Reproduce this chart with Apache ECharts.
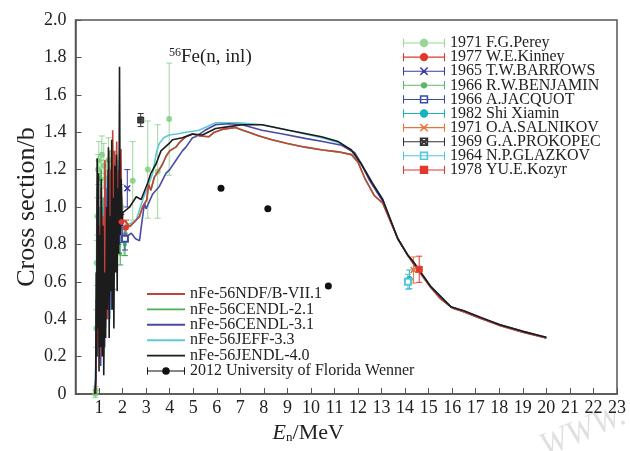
<!DOCTYPE html>
<html><head><meta charset="utf-8">
<script src="https://cdn.jsdelivr.net/npm/echarts@6/dist/echarts.min.js"></script>
<style>html,body{margin:0;padding:0;background:#fff}#c{width:630px;height:451px}</style>
</head><body><div id="c"></div><script>
// ---- tick labels ----
const xTickLabels = ['1','2','3','4','5','6','7','8','9','10','11','12','13','14','15','16','17','18','19','20','21','22','23'];
const yTickLabels = ['0','0.2','0.4','0.6','0.8','1.0','1.2','1.4','1.6','1.8','2.0'];

// ---- evaluated curves [E (MeV), sigma (b)] ----
const endfB71 = [[0.85,0],[0.9,0.3],[0.93,1.05],[0.96,0.25],[1.0,0.9],[1.04,0.2],[1.08,1.1],[1.12,0.35],[1.16,0.95],[1.2,0.3],[1.25,1.25],[1.29,0.45],[1.33,1.0],[1.37,0.4],[1.42,1.3],[1.46,0.55],[1.5,1.2],[1.54,0.6],[1.58,1.41],[1.62,0.7],[1.66,1.3],[1.7,0.75],[1.75,1.35],[1.79,0.8],[1.84,1.2],[1.88,0.85],[1.93,1.31],[1.97,0.9],[2.01,0.93],[2.15,0.92],[2.3,0.895],[2.5,0.92],[2.72,0.95],[2.85,1.0],[3.03,1.04],[3.1,1.12],[3.2,1.09],[3.35,1.16],[3.56,1.2],[3.7,1.23],[3.84,1.27],[4.0,1.3],[4.26,1.32],[4.45,1.35],[4.69,1.376],[4.97,1.39],[5.3,1.38],[5.67,1.376],[5.9,1.4],[6.23,1.415],[6.5,1.42],[6.8,1.425],[7.1,1.41],[7.36,1.4],[7.8,1.38],[8.34,1.36],[9.0,1.34],[9.75,1.32],[10.5,1.305],[11.16,1.295],[11.72,1.28],[12.0,1.24],[12.3,1.15],[12.7,1.06],[13.05,1.02],[13.69,0.83],[14.1,0.745],[14.39,0.69],[15.09,0.57],[15.5,0.51],[16.0,0.46],[16.5,0.44],[17.0,0.415],[18.05,0.365],[19.0,0.33],[20.0,0.30]];
const cendl21 = [[0.86,0],[0.9,0.5],[0.94,1.15],[0.97,0.3],[1.01,1.0],[1.05,0.25],[1.09,1.2],[1.13,0.4],[1.18,1.05],[1.22,0.35],[1.27,1.2],[1.31,0.5],[1.36,1.1],[1.4,0.45],[1.44,1.25],[1.48,0.6],[1.53,1.15],[1.57,0.65],[1.61,1.3],[1.65,0.75],[1.7,1.2],[1.74,0.8],[1.79,1.25],[1.83,0.85],[1.88,1.15],[1.93,0.9],[2.01,0.93],[2.15,0.92],[2.3,0.895],[2.5,0.92],[2.72,0.95],[2.85,1.0],[3.03,1.04],[3.1,1.12],[3.2,1.09],[3.35,1.16],[3.56,1.2],[3.7,1.23],[3.84,1.27],[4.0,1.3],[4.26,1.32],[4.45,1.35],[4.69,1.376],[4.97,1.39],[5.3,1.38],[5.67,1.376],[5.9,1.4],[6.23,1.415],[6.5,1.42],[6.8,1.425],[7.1,1.41],[7.36,1.4],[7.8,1.38],[8.34,1.36],[9.0,1.34],[9.75,1.32],[10.5,1.305],[11.16,1.295],[11.72,1.28],[12.0,1.24],[12.3,1.15],[12.7,1.06],[13.05,1.02],[13.69,0.83],[14.1,0.745],[14.39,0.69],[15.09,0.57],[15.5,0.51],[16.0,0.46],[16.5,0.44],[17.0,0.415],[18.05,0.365],[19.0,0.33],[20.0,0.30]];
const cendl31 = [[0.85,0],[0.89,0.5],[0.92,0.2],[0.95,1.1],[0.99,0.3],[1.03,0.85],[1.07,0.15],[1.11,1.0],[1.15,0.3],[1.2,0.8],[1.24,0.25],[1.29,1.1],[1.33,0.4],[1.38,1.2],[1.42,0.5],[1.47,1.05],[1.52,0.45],[1.56,1.3],[1.6,0.6],[1.65,1.15],[1.69,0.7],[1.74,1.22],[1.78,0.75],[1.83,1.1],[1.88,0.8],[1.93,1.2],[1.98,0.85],[2.06,0.86],[2.16,0.84],[2.37,0.86],[2.55,0.83],[2.72,0.82],[2.8,0.9],[2.93,1.02],[3.0,0.99],[3.07,1.0],[3.28,1.07],[3.56,1.11],[3.84,1.18],[4.0,1.2],[4.27,1.25],[4.54,1.3],[4.69,1.32],[4.97,1.37],[5.11,1.376],[5.5,1.41],[5.95,1.44],[6.5,1.445],[7.08,1.44],[7.5,1.425],[7.92,1.41],[8.8,1.39],[9.75,1.367],[10.5,1.35],[11.3,1.33],[11.86,1.29],[12.1,1.24],[12.5,1.14],[13.05,1.03],[13.69,0.83],[14.1,0.745],[14.39,0.70],[15.09,0.575],[15.94,0.465],[16.5,0.44],[17.2,0.405],[18.05,0.37],[19.0,0.335],[20.0,0.30]];
const jeff33 = [[0.84,0],[0.88,0.4],[0.91,1.1],[0.95,0.3],[0.99,1.0],[1.03,0.2],[1.07,0.9],[1.11,0.3],[1.15,1.05],[1.19,0.2],[1.24,0.8],[1.28,0.35],[1.33,1.15],[1.37,0.5],[1.42,1.25],[1.46,0.4],[1.51,1.1],[1.55,0.5],[1.6,1.28],[1.64,0.6],[1.69,1.15],[1.73,0.7],[1.78,1.25],[1.82,0.8],[1.87,1.3],[1.92,0.85],[1.97,1.05],[2.01,0.9],[2.3,0.91],[2.58,0.93],[2.86,1.04],[3.05,1.1],[3.28,1.18],[3.45,1.3],[3.56,1.34],[3.75,1.37],[3.98,1.385],[4.3,1.39],[4.7,1.4],[5.25,1.41],[5.6,1.43],[5.95,1.45],[6.94,1.45],[7.92,1.44],[9.05,1.41],[10.45,1.37],[11.16,1.345],[11.72,1.30],[12.14,1.23],[12.6,1.13],[13.05,1.04],[13.69,0.83],[14.1,0.745],[14.39,0.70],[15.09,0.574],[15.94,0.467],[16.5,0.443],[17.2,0.408],[18.05,0.368],[19.0,0.333],[20.0,0.302]];
const jendl40 = [[0.82,0],[0.86,0.08],[0.88,0.65],[0.9,0.2],[0.92,1.26],[0.95,0.35],[0.98,1.18],[1.0,0.12],[1.03,0.85],[1.06,0.25],[1.1,1.15],[1.13,0.2],[1.17,0.9],[1.2,0.1],[1.24,0.65],[1.28,0.3],[1.32,1.0],[1.35,0.45],[1.4,1.32],[1.43,0.3],[1.47,0.95],[1.5,0.55],[1.54,1.36],[1.57,0.45],[1.6,1.05],[1.63,0.35],[1.67,1.22],[1.7,0.65],[1.74,1.28],[1.77,0.55],[1.8,1.1],[1.84,0.75],[1.87,1.75],[1.9,0.85],[1.94,1.15],[1.97,0.9],[2.01,0.97],[2.3,1.0],[2.58,1.055],[2.79,1.04],[3.07,1.13],[3.2,1.18],[3.42,1.23],[3.63,1.3],[3.98,1.34],[4.12,1.36],[4.54,1.37],[4.97,1.39],[5.39,1.385],[5.95,1.42],[6.51,1.43],[7.08,1.44],[7.92,1.44],[9.05,1.41],[10.45,1.376],[11.16,1.35],[11.72,1.305],[12.14,1.23],[12.6,1.13],[13.05,1.04],[13.69,0.83],[14.1,0.745],[14.39,0.70],[15.09,0.574],[15.94,0.467],[16.5,0.445],[17.2,0.41],[18.05,0.369],[19.0,0.335],[20.0,0.303]];

// ---- experimental data [E, sigma, error] ----
const perey1971 = [[0.84,0.0,0.02],[0.86,0.02,0.02],[0.88,0.35,0.1],[0.9,0.7,0.12],[0.93,0.95,0.1],[0.96,1.2,0.08],[0.99,1.25,0.1],[1.02,0.6,0.1],[1.05,1.15,0.1],[1.08,0.5,0.1],[1.12,1.28,0.1],[1.16,0.8,0.1],[1.2,1.22,0.12],[1.25,0.7,0.1],[1.3,1.15,0.1],[1.35,0.9,0.1],[1.4,1.25,0.12],[1.45,0.75,0.1],[1.5,1.2,0.1],[1.55,0.95,0.1],[1.6,1.18,0.12],[1.65,0.85,0.1],[1.7,1.1,0.12],[1.75,0.95,0.1],[1.8,1.05,0.12],[1.85,0.9,0.1],[1.95,1.0,0.12],[2.05,0.82,0.08],[2.43,1.14,0.21],[3.07,1.2,0.26],[3.49,1.19,0.25],[3.98,1.47,0.3]];
const kinney1977 = [[1.95,0.92,0.04],[2.15,0.89,0.04]];
const barrows1965 = [[2.2,1.1,0.1]];
const benjamin1966 = [[0.95,0.45,0.05],[1.3,0.55,0.05],[1.6,0.62,0.06],[1.9,0.75,0.06],[2.1,0.8,0.06]];
const jacquot1966 = [[2.1,0.83,0.06]];
const shi1982 = [[14.18,0.613,0.05]];
const salnikov1971 = [[14.36,0.663,0.07]];
const prokopec1969 = [[2.77,1.465,0.035]];
const glazkov1964 = [[14.12,0.60,0.04]];
const kozyr1978 = [[14.6,0.667,0.07]];
const wenner2012 = [[6.18,1.10],[8.17,0.99],[10.74,0.578]];

const FONT = 'Liberation Serif';
const C = {
  endf:'#c4423c', c21:'#4cae4f', c31:'#4a4aa6', jeff:'#5fc8d6', jendl:'#1c1c1c',
  perey:'#74c874', kinney:'#e0392c', barrows:'#3b3ba8', benjamin:'#35a447', jacquot:'#3b4aa8',
  shi:'#17b2c2', salnikov:'#e8743b', prokopec:'#333333', glazkov:'#55c6dc', kozyr:'#e2392e', wenner:'#111111'
};
const exps = [
  {name:'1971 F.G.Perey', d:perey1971, c:C.perey, sym:'circle', size:6, op:0.75},
  {name:'1977 W.E.Kinney', d:kinney1977, c:C.kinney, sym:'circle', size:5, op:1},
  {name:'1965 T.W.BARROWS', d:barrows1965, c:C.barrows, sym:'path://M0 1L1 0L10 9L9 10Z M9 0L10 1L1 10L0 9Z', size:6, op:1},
  {name:'1966 R.W.BENJAMIN', d:benjamin1966, c:C.benjamin, sym:'circle', size:4, op:0.8},
  {name:'1966 A.JACQUOT', d:jacquot1966, c:C.jacquot, sym:'emptyRect', size:6, op:1},
  {name:'1982 Shi Xiamin', d:shi1982, c:C.shi, sym:'circle', size:6, op:1},
  {name:'1971 O.A.SALNIKOV', d:salnikov1971, c:C.salnikov, sym:'path://M0 1L1 0L10 9L9 10Z M9 0L10 1L1 10L0 9Z', size:6, op:1},
  {name:'1969 G.A.PROKOPEC', d:prokopec1969, c:C.prokopec, sym:'path://M0 0H10V10H0Z M1.5 1.5V8.5H8.5V1.5Z M2 3L3 2L8 7L7 8Z M7 2L8 3L3 8L2 7Z', size:6, op:1},
  {name:'1964 N.P.GLAZKOV', d:glazkov1964, c:C.glazkov, sym:'emptyRect', size:6, op:1},
  {name:'1978 YU.E.Kozyr', d:kozyr1978, c:C.kozyr, sym:'rect', size:6, op:1}
];
const base = 'M0 5.5H40V6.5H0Z M0 2H1V10H0Z M39 2H40V10H39Z ';
const mk = {
  circle:'M24 6A4 4 0 1 1 16 6A4 4 0 1 1 24 6Z',
  small:'M23 6A3 3 0 1 1 17 6A3 3 0 1 1 23 6Z',
  square:'M16 2H24V10H16Z',
  hollow:'M16 2H24V10H16Z M17.5 3.5V8.5H22.5V3.5Z',
  x:'M16 3L17 2L24 9L23 10Z M23 2L24 3L17 10L16 9Z'
};
const legIcons = [mk.circle, mk.circle, mk.x, mk.small, mk.hollow, mk.circle, mk.x, mk.x+' '+mk.hollow, mk.hollow, mk.square].map(m => 'path://' + base + m);
const lineIcon = 'path://M0 0H40V2H0Z';

// error-bar data
const ebColors = exps.map(e => e.c);
const ebData = [];
exps.forEach((e, i) => e.d.forEach(p => ebData.push([p[0], p[1]-p[2], p[1]+p[2], i])));

const series = [];
series.push({
  type:'custom', name:'_eb', z:1,
  renderItem:function(params, api){
    const x = api.value(0), lo = api.value(1), hi = api.value(2);
    const col = ebColors[api.value(3)];
    const p1 = api.coord([x, lo]), p2 = api.coord([x, hi]);
    const w = 3;
    const st = {stroke:col, lineWidth:1, opacity: api.value(3) === 0 ? 0.7 : 1};
    return {type:'group', children:[
      {type:'line', shape:{x1:p1[0], y1:p1[1], x2:p2[0], y2:p2[1]}, style:st},
      {type:'line', shape:{x1:p1[0]-w, y1:p1[1], x2:p1[0]+w, y2:p1[1]}, style:st},
      {type:'line', shape:{x1:p2[0]-w, y1:p2[1], x2:p2[0]+w, y2:p2[1]}, style:st}
    ]};
  },
  encode:{x:0, y:[1,2]},
  data: ebData,
  silent:true
});
[0,3].forEach(i => {
  const e = exps[i];
  series.push({type:'scatter', name:e.name, z:1, symbol:e.sym, symbolSize:e.size,
    itemStyle:{color:e.c, opacity:e.op}, data:e.d.map(p => [p[0], p[1]])});
});
const curves = [
  {name:'nFe-56CENDL-2.1', d:cendl21, c:C.c21},
  {name:'nFe-56JEFF-3.3', d:jeff33, c:C.jeff},
  {name:'nFe-56CENDL-3.1', d:cendl31, c:C.c31},
  {name:'nFe-56NDF/B-VII.1', d:endfB71, c:C.endf},
  {name:'nFe-56JENDL-4.0', d:jendl40, c:C.jendl}
];
curves.forEach(cv => series.push({type:'line', name:cv.name, z:2, data:cv.d, showSymbol:false, symbol:'none',
  lineStyle:{color:cv.c, width:1.6}, itemStyle:{color:cv.c}}));
exps.forEach((e, i) => {
  if (i === 0 || i === 3) return;
  series.push({type:'scatter', name:e.name, z:3, symbol:e.sym, symbolSize:e.size,
    itemStyle:{color:e.c, opacity:e.op, borderColor:e.c}, data:e.d.map(p => [p[0], p[1]])});
});
series.push({type:'scatter', name:'2012 University of Florida Wenner', z:3, symbol:'circle', symbolSize:7,
  itemStyle:{color:C.wenner, opacity:1}, data:wenner2012});

const option = {
  animation:false,
  backgroundColor:'#ffffff',
  textStyle:{fontFamily:FONT},
  grid:{left:75.5, right:13, top:20, bottom:57, show:true, borderColor:'#555', borderWidth:1.5},
  title:{
    text:'{sup|56}{m|Fe(n, inl)}', left:164, top:42,
    textStyle:{fontWeight:'normal', rich:{
      sup:{fontFamily:FONT, fontSize:12, fontWeight:'normal', color:'#222', padding:[0,0,9,0]},
      m:{fontFamily:FONT, fontSize:19, fontWeight:'normal', color:'#222'}
    }}
  },
  xAxis:{
    type:'value', min:0, max:23, interval:1,
    name:'{i|E}{s|n}/MeV', nameLocation:'middle', nameGap:25,
    nameTextStyle:{rich:{
      i:{fontFamily:FONT, fontSize:22, fontStyle:'italic', color:'#222'},
      s:{fontFamily:FONT, fontSize:13, color:'#222', padding:[10,0,0,0]}
    }, fontFamily:FONT, fontSize:22, color:'#222', padding:[0,76,0,0]},
    axisLine:{lineStyle:{color:'#555', width:1.5}},
    axisTick:{inside:true, length:6, lineStyle:{color:'#555', width:1}},
    axisLabel:{fontFamily:FONT, fontSize:18, color:'#222', margin:5,
      formatter:v => (v >= 1 && v <= 23) ? xTickLabels[v-1] : ''},
    splitLine:{show:false}
  },
  yAxis:{
    type:'value', min:0, max:2, interval:0.2,
    name:'Cross section/b', nameLocation:'middle', nameGap:35, nameMoveOverlap:false,
    nameTextStyle:{fontFamily:FONT, fontSize:26, color:'#222'},
    axisLine:{lineStyle:{color:'#555', width:1.5}},
    axisTick:{inside:true, length:6, lineStyle:{color:'#555', width:1}},
    axisLabel:{fontFamily:FONT, fontSize:18, color:'#222', margin:9,
      formatter:v => yTickLabels[Math.round(v*5)]},
    splitLine:{show:false}
  },
  legend:[
    {
      orient:'vertical', left:398, top:30, itemGap:-1.9, itemWidth:42, itemHeight:8.4,
      textStyle:{fontFamily:FONT, fontSize:16, color:'#222'},
      data: exps.map((e, i) => ({name:e.name, icon:legIcons[i]})),
      selectedMode:false
    },
    {
      orient:'vertical', left:142, top:281, itemGap:-0.6, itemWidth:38, itemHeight:7.6,
      textStyle:{fontFamily:FONT, fontSize:16, color:'#222'},
      data:[
        {name:'nFe-56NDF/B-VII.1', icon:lineIcon},
        {name:'nFe-56CENDL-2.1', icon:lineIcon},
        {name:'nFe-56CENDL-3.1', icon:lineIcon},
        {name:'nFe-56JEFF-3.3', icon:lineIcon},
        {name:'nFe-56JENDL-4.0', icon:lineIcon},
        {name:'2012 University of Florida Wenner', icon:'path://'+base+mk.circle}
      ],
      selectedMode:false
    }
  ],
  graphic:[{type:'text', left:535, top:398, rotation:0.4, silent:true,
    style:{text:'WWW.', fontFamily:FONT, fontSize:34, fontStyle:'italic', fill:'rgba(0,0,0,0.12)'}}],
  series:series
};
const chart = echarts.init(document.getElementById('c'), null, {renderer:'canvas'});
chart.setOption(option);
</script></body></html>
